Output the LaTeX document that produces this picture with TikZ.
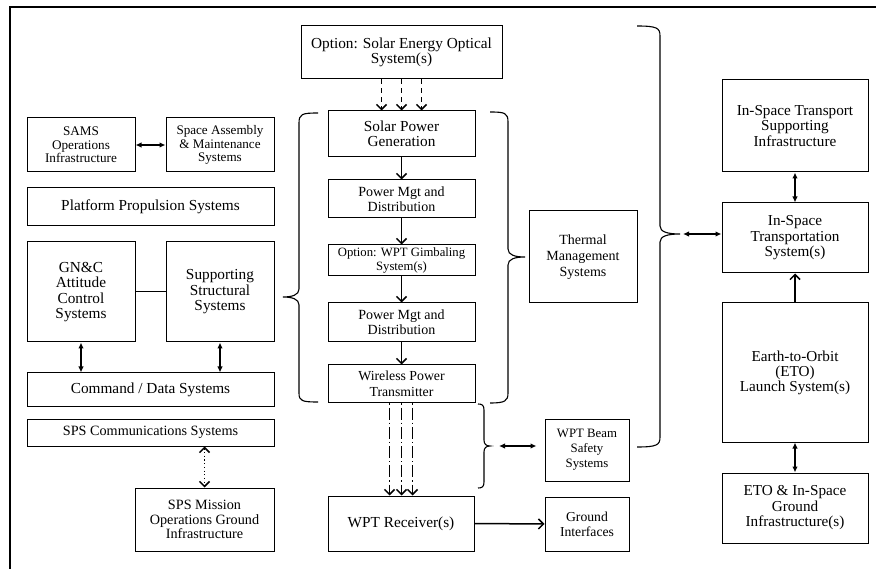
\documentclass[tikz,border=0pt]{standalone}
\usepackage{fontspec}
\setmainfont{Liberation Serif}
\usetikzlibrary{arrows.meta}
\tikzset{
 box/.style={draw,line width=1pt,inner sep=0pt,align=center},
 flow/.style={line width=1.5pt,-{Straight Barb[length=5pt,width=10pt,line width=1.5pt]}},
 flowbi/.style={line width=1.3pt,{Straight Barb[length=5pt,width=10pt,line width=1.5pt]}-{Straight Barb[length=5pt,width=10pt,line width=1.5pt]}},
 bi/.style={line width=1.2pt,{Latex[length=6pt,width=5.5pt]}-{Latex[length=6pt,width=5.5pt]}},
 plain/.style={line width=1pt},
 bracestyle/.style={line width=1.1pt},
 framestyle/.style={line width=2.4pt}
}
\newcommand\bx[8]{\node[box,minimum width={(#4-#2)*1pt},minimum height={(#5-#3)*1pt},font=\fontsize{#7}{#8}\selectfont] (#1) at ({(#2+#4)/2},{(#3+#5)/2}) {#6};}
\begin{document}
\begin{tikzpicture}[x=1pt,y=-1pt]
\useasboundingbox (0,0) rectangle (876,569);
\coordinate (fa) at (876,7);
\coordinate (fb) at (10,7);
\coordinate (fc) at (10,569);
\draw[framestyle] (fa) -- (fb) -- (fc);

\bx{sams}{27}{118}{135}{172}{SAMS\\Operations\\Infrastructure}{13.2}{13.4}
\bx{space}{166}{118}{274}{172}{Space Assembly\\\& Maintenance\\Systems}{13.1}{13.3}
\bx{prop}{27}{188}{274}{226}{Platform Propulsion Systems}{15.3}{15.5}
\bx{gnc}{27}{242}{135}{342}{GN\&C\\Attitude\\Control\\Systems}{15.3}{15.5}
\bx{sss}{166}{242}{274}{342}{Supporting\\Structural\\Systems}{15.3}{15.5}
\bx{cmd}{27}{373}{274}{407}{Command / Data Systems}{15.3}{15.5}
\bx{comm}{27}{419}{274}{446}{SPS Communications Systems}{14.2}{15}
\bx{mission}{135}{488}{274}{551}{SPS Mission\\Operations Ground\\Infrastructure}{14.2}{14.5}
\bx{optical}{301}{26}{502}{79}{Option: Solar Energy Optical\\System(s)}{15.3}{15.5}
\bx{solar}{328}{111}{475}{157}{Solar Power\\Generation}{15.3}{15}
\bx{pma}{328}{180}{475}{218}{Power Mgt and\\Distribution}{14}{15}
\bx{gimbal}{328}{245}{475}{276}{Option: WPT Gimbaling\\System(s)}{12.7}{14}
\bx{pmb}{328}{303}{475}{342}{Power Mgt and\\Distribution}{14}{15}
\bx{wpt}{328}{365}{475}{403}{Wireless Power\\Transmitter}{13.8}{15.5}
\bx{recv}{328}{496}{474}{551}{WPT Receiver(s)}{15.3}{15.5}
\bx{ground}{545}{497}{629}{551}{Ground\\Interfaces}{13.7}{15}
\bx{beam}{545}{419}{629}{481}{WPT Beam\\Safety\\Systems}{12.8}{15}
\bx{thermal}{529}{211}{637}{303}{Thermal\\Management\\Systems}{14}{16}
\bx{isti}{722}{80}{868}{172}{In-Space Transport\\Supporting\\Infrastructure}{15.2}{15.5}
\bx{itrans}{722}{203}{868}{273}{In-Space\\Transportation\\System(s)}{15.2}{15.5}
\bx{eto}{722}{303}{868}{442}{Earth-to-Orbit\\(ETO)\\Launch System(s)}{15.2}{15}
\bx{etog}{722}{473}{868}{543}{ETO \& In-Space\\Ground\\Infrastructure(s)}{15.2}{15.5}

% braces
\draw[bracestyle] (318,113) .. controls (302,113) and (299,114) .. (299,123) -- (299,289) .. controls (299,295) and (292,297) .. (283,297) .. controls (292,297) and (299,299) .. (299,305) -- (299,393) .. controls (299,401) and (302,402) .. (318,402);
\draw[bracestyle] (490,112) .. controls (505,112) and (508,113) .. (508,122) -- (508,249) .. controls (508,255) and (515,257) .. (525,257) .. controls (515,257) and (508,259) .. (508,265) -- (508,393) .. controls (508,401) and (505,403) .. (490,403);
\draw[bracestyle] (637,26) .. controls (657,26) and (660,28) .. (660,36) -- (660,226) .. controls (660,232) and (668,234) .. (680,234) .. controls (668,234) and (660,236) .. (660,242) -- (660,437) .. controls (660,445) and (657,447) .. (637,447);
\draw[bracestyle] (478,404) .. controls (482,404) and (484,405) .. (484,410) -- (484,440) .. controls (484,444) and (486,446) .. (490,446) .. controls (486,446) and (484,448) .. (484,452) -- (484,482) .. controls (484,487) and (482,488) .. (478,488);
\coordinate (tipS) at (490,446);
\coordinate (tipB) at (680,234);

% connectors
\draw[bi] (sams.east) -- (space.west);
\draw[plain] (gnc.east) -- (sss.west);
\draw[bi] (gnc.south) -- (gnc.south |- cmd.north);
\draw[bi] (sss.south) -- (sss.south |- cmd.north);
\draw[flowbi, dash pattern=on 1.2pt off 2.5pt] (comm.south -| mission.north) -- (mission.north);
\foreach \dx in {-20,0,20}
  \draw[flow, dash pattern=on 5pt off 4pt] ([xshift=\dx pt]optical.south) -- ([xshift=\dx pt]optical.south |- solar.north);
\draw[flow] (solar.south) -- (pma.north);
\draw[flow] (pma.south) -- (gimbal.north);
\draw[flow] (gimbal.south) -- (pmb.north);
\draw[flow] (pmb.south) -- (wpt.north);
\foreach \dx in {-12,0,11}
  \draw[flow, dash pattern=on 1.2pt off 3pt on 12pt off 3pt] ([xshift=\dx pt]wpt.south) -- ([xshift=\dx pt]wpt.south |- recv.north);
\draw[flow] (recv.east) -- (ground.west);
\draw[bi, shorten <=9pt, shorten >=8pt] (tipS) -- (tipS -| beam.west);
\draw[bi, shorten <=3pt] (tipB) -- (tipB -| itrans.west);
\draw[bi] (isti.south) -- (itrans.north);
\draw[flow] (eto.north) -- (itrans.south);
\draw[bi] (eto.south) -- (etog.north);
\end{tikzpicture}
\end{document}
